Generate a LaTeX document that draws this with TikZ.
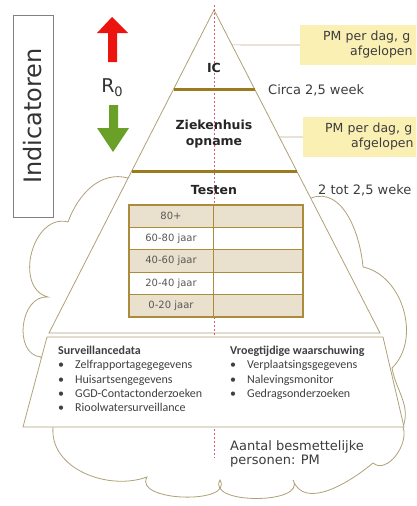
\documentclass[tikz,border=0pt]{standalone}
\usepackage{fontspec}
\setmainfont{DejaVu Sans}
\newfontfamily\calib{Carlito}
\usetikzlibrary{positioning,calc}
\definecolor{pyrline}{RGB}{176,160,120}
\definecolor{goldbar}{RGB}{156,122,32}
\definecolor{tblline}{RGB}{170,140,60}
\definecolor{tblfill}{RGB}{233,224,205}
\definecolor{pmfill}{RGB}{251,240,180}
\definecolor{upred}{RGB}{235,20,15}
\definecolor{downgreen}{RGB}{106,160,40}
\definecolor{midred}{RGB}{220,90,110}
\definecolor{txtgray}{RGB}{60,60,60}
\definecolor{leadcol}{RGB}{190,175,140}
\definecolor{indline}{RGB}{128,128,128}
\newcommand\survitem[1]{\makebox[17pt][l]{\textbullet}#1}
\tikzset{
  pyr/.style={draw=pyrline, line width=0.8pt, fill=white},
  bar/.style={draw=goldbar, line width=3pt},
  cell/.style={draw=tblline, line width=1pt, minimum height=22.4pt, inner sep=0pt, outer sep=0pt,
    font=\fontsize{10}{12}\selectfont, text=black!65},
  pmbox/.style={fill=pmfill, anchor=west, minimum height=40pt, text width=104pt, align=left,
    inner xsep=23pt, font=\fontsize{12.5}{15}\selectfont, text=txtgray},
  leader/.style={draw=leadcol, line width=0.7pt},
  lvl/.style={font=\bfseries\fontsize{12.5}{16}\selectfont, text=black!85, align=center},
  note/.style={font=\fontsize{13}{14}\selectfont, text=txtgray, anchor=west, inner sep=0pt, align=left},
  datalist/.style={font=\calib\fontsize{12}{14.3}\selectfont, text=black!75, anchor=north west,
    inner sep=0pt, align=left}
}

\begin{document}
\begin{tikzpicture}[x=1pt,y=-1pt]
           \useasboundingbox (0,0) rectangle (416,506);
           \clip (0,0) rectangle (416,506);
           \coordinate (apex) at (214,10);
           \coordinate (bl) at (49,333);
           \coordinate (br) at (380,333);
           \coordinate (tl) at (47,337);
           \coordinate (tr) at (383,337);
           \coordinate (bbr) at (404,427);
           \coordinate (bbl) at (23,427);
           \coordinate (mid_top) at (214,5);
           \coordinate (mid_bot) at (214,458);
           \draw[pyr] (128,178) to[out=165,in=70] (68,222)
                 to[out=165,in=165,looseness=1.2] (48,297)
                 to[out=175,in=175,looseness=1.2] (41,357)
                 -- (53,427)
                 to[out=265,in=200] (147,477)
                 to[out=240,in=300] (220,480)
                 to[out=240,in=300] (293,480)
                 to[out=290,in=220] (373,463)
                 to[out=320,in=290] (403,427)
                 to[out=70,in=280] (392,368)
                 to[out=44,in=348] (363,267)
                 to[out=95,in=20] (311,198)
                 -- cycle;
           \draw[pyr] (apex) -- (br) -- (bl) -- cycle;
           \draw[midred, line width=0.8pt, dash pattern=on 2pt off 2pt] (mid_top) -- (mid_bot);
           \draw[pyr] (tl) -- (tr) -- (bbr) -- (bbl) -- cycle;
           \draw[bar] ($(apex)!0.2446!(bl)$) -- ($(apex)!0.2446!(br)$);
           \draw[bar] ($(apex)!0.4985!(bl)$) -- ($(apex)!0.4985!(br)$);
           \foreach \lbl/\shade [count=\i] in {80+/tblfill, 60-80 jaar/white, 40-60 jaar/tblfill,
                 20-40 jaar/white, 0-20 jaar/tblfill} {
             \node[cell, fill=\shade, minimum width=84pt] (age_\i) at (171,193.8+22.4*\i) {\lbl};
             \node[cell, fill=\shade, minimum width=90pt] (val_\i) [right=0pt of age_\i] {};
           }
           \draw[tblline, line width=1.5pt] (age_1.north west) rectangle (val_5.south east);
           \node[lvl] (lvl_ic) at (214,68) {IC};
           \node[lvl] (lvl_zh) at (214,134) {Ziekenhuis\\opname};
           \node[lvl] (lvl_test) at (214,190) {Testen};
           \node[pmbox] (pm_ic) at (300,45) {PM per dag, g\\\hspace*{27pt}afgelopen};
           \node[pmbox, inner xsep=22pt] (pm_zh) at (303,137) {PM per dag, g\\\hspace*{26pt}afgelopen};
           \coordinate (ic_edge) at ($(apex)!0.108!(br)$);
           \coordinate (zh_edge) at ($(apex)!0.393!(br)$);
           \path[leader]
            (ic_edge) edge (pm_ic.west)
            (zh_edge) edge (pm_zh.west)
            ;
           \node[note] (ic_wait) at (268,90) {Circa 2,5 week};
           \node[note] (test_wait) at (318,190) {2 tot 2,5 weke};
           \node[note] (besm) at (230,454) {Aantal besmettelijke\\personen: PM};
           \node[datalist] (surv) at (58,346) {\textbf{Surveillancedata}\\
             \survitem{Zelfrapportagegegevens}\\
             \survitem{Huisartsengegevens}\\
             \survitem{GGD-Contactonderzoeken}\\
             \survitem{Rioolwatersurveillance}};
           \node[datalist] (vroeg) at (230,346) {\textbf{Vroegtijdige waarschuwing}\\
             \survitem{Verplaatsingsgegevens}\\
             \survitem{Nalevingsmonitor}\\
             \survitem{Gedragsonderzoeken}};
           \node[draw=indline, line width=0.6pt, rotate=90, minimum width=202pt, minimum height=40pt,
             font=\fontsize{24}{24}\selectfont, text=black!80] (indic) at (33,116) {Indicatoren};
           \fill[upred] (112,17) -- (128,33) -- (117,33) -- (117,62) -- (108,62) -- (108,33) -- (97,33) -- cycle;
           \fill[downgreen] (113,152) -- (129,128) -- (118,128) -- (118,105) -- (109,105) -- (109,128) -- (97,128) -- cycle;
           \node[font=\fontsize{19}{19}\selectfont, text=black!80] (r_zero) at (112,88)
             {R\raisebox{-4pt}{\fontsize{13}{13}\selectfont 0}};
        \end{tikzpicture}
\end{document}
